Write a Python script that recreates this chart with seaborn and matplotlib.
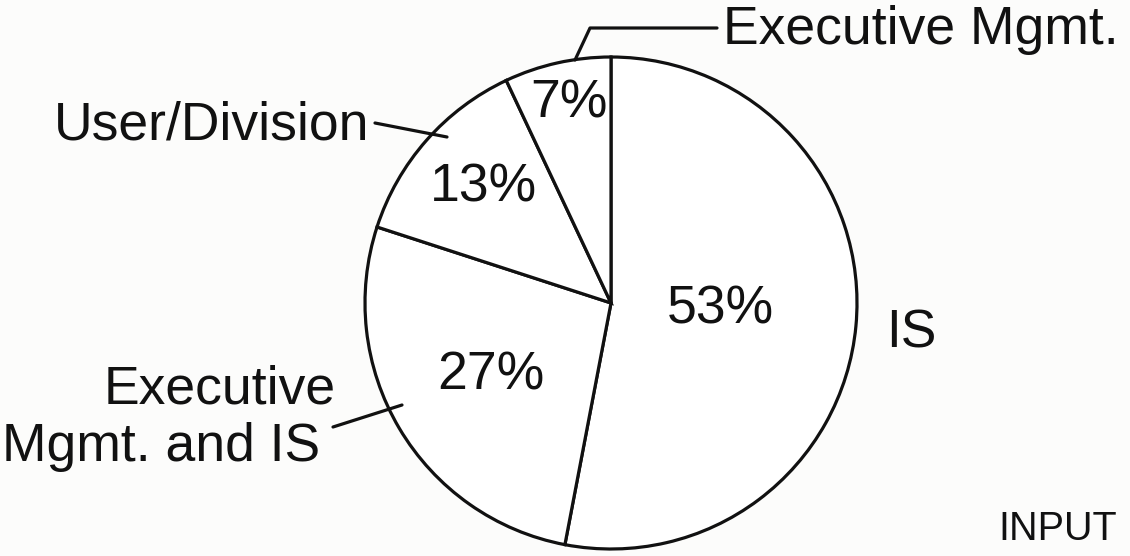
import matplotlib
matplotlib.use("Agg")
import matplotlib.pyplot as plt
import seaborn as sns

# Data
categories = ["IS", "Executive\nMgmt. and IS", "User/Division", "Executive Mgmt."]
shares = [53, 27, 13, 7]
pct_labels = ["53%", "27%", "13%", "7%"]

sns.set_theme(style="white")
plt.rcParams["font.family"] = ["Liberation Sans", "DejaVu Sans"]

BG = "#fcfcfb"
W, H = 1130, 556
fig = plt.figure(figsize=(W / 100, H / 100), dpi=100, facecolor=BG)
ax = fig.add_axes([0, 0, 1, 1])
ax.set_facecolor(BG)

cx, cy, r = 611, H - 303, 246
ax.pie(shares, center=(cx, cy), radius=r, startangle=90, counterclock=False,
       colors=["white"] * len(shares),
       wedgeprops=dict(edgecolor="#111111", linewidth=2.3),
       frame=True)
ax.set_xlim(0, W)
ax.set_ylim(0, H)
ax.set_aspect("equal")
ax.axis("off")

fs = 38.5
col = "#111111"
# percentage labels
pct_pos = [(720, 310), (491, 375), (483, 187), (569, 103)]
for t, (x, y) in zip(pct_labels, pct_pos):
    ax.text(x, H - y, t, fontsize=fs, color=col, ha="center", va="center")

# category labels + leader lines
ax.text(886, H - 333, categories[0], fontsize=fs, color=col, ha="left", va="center")
ax.text(336, H - 390, "Executive", fontsize=fs, color=col, ha="right", va="center")
ax.text(320, H - 447, "Mgmt. and IS", fontsize=fs, color=col, ha="right", va="center")
ax.plot([333, 402], [H - 427, H - 405], color=col, lw=2.3)
ax.text(54, H - 126, categories[2], fontsize=fs, color=col, ha="left", va="center")
ax.plot([375, 447], [H - 123, H - 137], color=col, lw=2.3)
ax.text(1119, H - 30, categories[3], fontsize=fs, color=col, ha="right", va="center")
ax.plot([575, 590, 717], [H - 60, H - 28, H - 28], color=col, lw=2.3)

ax.text(1117, H - 529, "INPUT", fontsize=28.5, color=col, ha="right", va="center")

fig.savefig("out.png", dpi=100, facecolor=BG)
